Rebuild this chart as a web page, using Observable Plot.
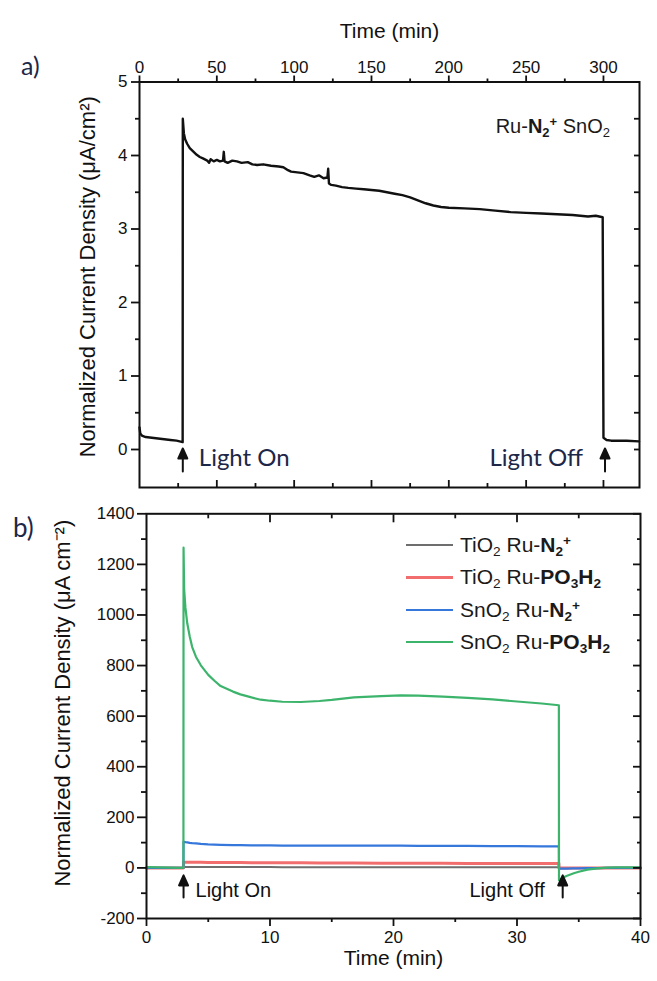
<!DOCTYPE html>
<html><head><meta charset="utf-8">
<script src="https://cdn.jsdelivr.net/npm/d3@7"></script>
<script src="https://cdn.jsdelivr.net/npm/@observablehq/plot@0.6"></script>
<style>
body{margin:0;background:#fff;}
#wrap{position:relative;width:657px;height:981px;overflow:hidden;background:#fff;font-family:"Liberation Sans",Arial,sans-serif;color:#1a1a1a;}
#wrap svg{display:block;}
.ov{position:absolute;white-space:nowrap;}
.cal{font-family:Lato,"Open Sans",sans-serif;color:#1d2748;}
sub,sup{font-size:65%;line-height:0;}
sub{vertical-align:-0.28em;}
sup{vertical-align:0.55em;}
</style></head><body><div id="wrap"></div>
<script>
// ---------- Panel a data (Ru-N2+ SnO2, long run) ----------
const timeA = [0,0.5,1.5,4,8,12,16,20,24,27.9,28,28.7,29.5,30.8,32.5,35,37,39,41,43.8,45,46,48,50,52,54,54.5,55,57,60,63,66,70,73,76,80,85,90,93,96,98,102,106,110,113,116,119,121.5,122,122.5,124,127,131,135,140,145,150,155,160,165,170,175,180,185,190,195,200,210,220,230,240,250,260,270,280,290,295,299.5,300,302,305,315,323];
const currentA = [0.30,0.22,0.19,0.17,0.16,0.15,0.14,0.13,0.12,0.10,4.50,4.30,4.22,4.16,4.10,4.05,4.01,3.98,3.96,3.93,3.90,3.95,3.92,3.94,3.92,3.93,4.05,3.92,3.90,3.93,3.92,3.90,3.91,3.88,3.87,3.88,3.86,3.85,3.84,3.80,3.78,3.77,3.76,3.73,3.71,3.73,3.69,3.70,3.82,3.62,3.60,3.59,3.57,3.56,3.55,3.54,3.53,3.52,3.50,3.48,3.46,3.43,3.39,3.35,3.32,3.30,3.29,3.28,3.27,3.25,3.23,3.22,3.21,3.20,3.19,3.17,3.18,3.16,0.16,0.13,0.12,0.12,0.11];
const lightTimesA = [28, 301];

// ---------- Panel b data ----------
const timeB = [0,1,2,2.99,3,3.05,3.15,3.3,3.5,3.7,4,4.4,5,5.5,6,7,7.6,8.5,9.25,10,11,12.5,14,15,16.8,19,20.6,22,24,26,28,30,32,33.39,33.4,33.6,34,34.6,35,35.7,36.5,37.3,38,39,40];
const tio2N2    = [0,0,0,0, 4,4,4,4,4,4, 4,4,4,4,4, 4,4,4,4,4, 3,3,3,3,3, 3,3,3,3,3, 3,3,3,3, 0,0,0,0,0, 0,0,0,0,0,0];
const tio2PO3H2 = [0,0,0,0, 22,22,22,22,22,22, 22,22,21,21,21, 21,21,20,20,20, 20,20,19,19,19, 18,18,18,18,17, 17,17,17,17, 0,0,0,0,0, 0,0,0,0,0,0];
const sno2N2    = [0,0,0,0, 104,103,102,101,99,98, 97,95,93,92,91, 90,90,89,89,89, 88,88,88,88,88, 88,88,87,87,87, 86,86,85,85, -3,-3,-3,-2,-2, -1,-1,0,0,0,0];
const sno2PO3H2 = [3,2,1,0, 1266,1100,1030,967,915,873, 835,801,763,740,719, 697,686,674,665,661, 657,656,660,664,674, 679,682,681,677,672, 666,658,650,643, -49,-42,-32,-21,-15, -7,-2,1,2,2,2];
const seriesNamesB = ["TiO2 Ru-N2+","TiO2 Ru-PO3H2","SnO2 Ru-N2+","SnO2 Ru-PO3H2"];
const seriesLabelsB = [
  'TiO<sub>2</sub> Ru-<b>N<sub>2</sub><sup>+</sup></b>',
  'TiO<sub>2</sub> Ru-<b>PO<sub>3</sub>H<sub>2</sub></b>',
  'SnO<sub>2</sub> Ru-<b>N<sub>2</sub><sup>+</sup></b>',
  'SnO<sub>2</sub> Ru-<b>PO<sub>3</sub>H<sub>2</sub></b>'
];
const seriesValuesB = [tio2N2, tio2PO3H2, sno2N2, sno2PO3H2];
const lightTimesB = [3, 33.7];

// ---------- ticks / labels ----------
const ticksAxMajor = [0,50,100,150,200,250,300];
const ticksAxMinor = [25,75,125,175,225,275];
const ticksAyMajor = [0,1,2,3,4,5];
const ticksAyMinor = [0.5,1.5,2.5,3.5,4.5];
const ticksBxMajor = [0,10,20,30,40];
const ticksBxMinor = [5,15,25,35];
const ticksByMajor = [-200,0,200,400,600,800,1000,1200,1400];
const ticksByMinor = [-100,100,300,500,700,900,1100,1300];
const timeLabel = "Time (min)";
const yLabelA = "Normalized Current Density (μA/cm²)";
const yLabelB = "Normalized Current Density (μA cm⁻²)";
const lightLabels = ["Light On", "Light Off"];

// ---------- styles ----------
const colorsB = ["#6e6e6e", "#f26d6d", "#3677dc", "#3cb46c"];
const widthsB = [2, 3, 2.2, 2.2];
const ink = "#111";
const fontFam = "Liberation Sans, Arial, sans-serif";

const arrowShape = {
  draw(ctx, l) {
    const h = 10, w = 4.5;
    ctx.moveTo(0, 0); ctx.lineTo(0, -l + h - 1);
    ctx.moveTo(0, -l); ctx.lineTo(-w, -l + h); ctx.lineTo(w, -l + h); ctx.closePath();
  }
};

const rowsA = timeA.map((t, i) => ({t, v: currentA[i]}));
const lightA = lightTimesA.map((t, i) => ({t, label: lightLabels[i]}));
const lightB = lightTimesB.map((t, i) => ({t, label: lightLabels[i]}));
const fmt = d => String(d);

const plotA = Plot.plot({
  width: 657, height: 495,
  marginTop: 81.5, marginLeft: 139, marginRight: 18, marginBottom: 8,
  x: {domain: [0, 323.3]},
  y: {domain: [-0.517, 5]},
  style: {fontFamily: fontFam, fontSize: "16px", color: ink, background: "white", overflow: "visible"},
  marks: [
    Plot.line(rowsA, {x: "t", y: "v", stroke: ink, strokeWidth: 2.4, strokeLinejoin: "round"}),
    Plot.frame({stroke: ink, strokeWidth: 2}),
    Plot.axisY({anchor: "left", ticks: ticksAyMajor, tickSize: 8, tickPadding: 4, fontSize: 17, label: null, tickFormat: fmt, strokeWidth: 1.8}),
    Plot.axisY({anchor: "left", ticks: ticksAyMinor, tickSize: 4, tickFormat: () => "", label: null, strokeWidth: 1.8}),
    Plot.axisY({anchor: "right", ticks: [...ticksAyMajor, ...ticksAyMinor], tickSize: 6, dx: -6, tickFormat: () => "", label: null, strokeWidth: 1.8}),
    Plot.axisX({anchor: "top", ticks: ticksAxMajor, tickSize: 7, tickPadding: 2, fontSize: 17, label: null, tickFormat: fmt, strokeWidth: 1.8}),
    Plot.axisX({anchor: "top", ticks: ticksAxMinor, tickSize: 4, tickFormat: () => "", label: null, strokeWidth: 1.8}),
    Plot.axisX({anchor: "bottom", ticks: ticksAxMajor.slice(1), tickSize: 7, dy: -7, tickFormat: () => "", label: null, strokeWidth: 1.8}),
    Plot.axisX({anchor: "bottom", ticks: ticksAxMinor, tickSize: 4, dy: -4, tickFormat: () => "", label: null, strokeWidth: 1.8}),
    Plot.text([timeLabel], {text: d => d, frameAnchor: "top", dy: -59, fontSize: 21, fill: ink}),
    Plot.text([yLabelA], {text: d => d, frameAnchor: "left", textAnchor: "middle", rotate: -90, dx: -52, dy: -8, fontSize: 22, fill: ink}),
    Plot.vector(lightA, {x: "t", y: () => 0, length: 23, rotate: 0, anchor: "end", dy: -1, shape: arrowShape, stroke: ink, fill: ink, strokeWidth: 2}),
    Plot.text([lightA[0]], {x: "t", y: () => 0, text: "label", textAnchor: "start", dx: 16, dy: 9, fontSize: 24, fontFamily: "Lato, Open Sans, sans-serif", fill: "#1d2748"}),
    Plot.text([lightA[1]], {x: "t", y: () => 0, text: "label", textAnchor: "end", dx: -22, dy: 9, fontSize: 24, fontFamily: "Lato, Open Sans, sans-serif", fill: "#1d2748"})
  ]
});

const linesB = seriesValuesB.map((vals, i) =>
  Plot.line(timeB.map((t, j) => ({t, v: vals[j], s: seriesNamesB[i]})), {x: "t", y: "v", stroke: colorsB[i], strokeWidth: widthsB[i], strokeLinejoin: "round"})
);

const plotB = Plot.plot({
  width: 657, height: 486,
  marginTop: 18.3, marginLeft: 146, marginRight: 17, marginBottom: 63,
  x: {domain: [0, 40]},
  y: {domain: [-200, 1400]},
  style: {fontFamily: fontFam, fontSize: "16px", color: ink, background: "white", overflow: "visible"},
  marks: [
    ...linesB,
    Plot.frame({stroke: ink, strokeWidth: 2}),
    Plot.axisY({anchor: "left", ticks: ticksByMajor, tickSize: 9, tickPadding: 3, fontSize: 17, label: null, tickFormat: fmt, strokeWidth: 1.8}),
    Plot.axisY({anchor: "left", ticks: ticksByMinor, tickSize: 5, tickFormat: () => "", label: null, strokeWidth: 1.8}),
    Plot.axisY({anchor: "right", ticks: ticksByMajor, tickSize: 8, dx: -8, tickFormat: () => "", label: null, strokeWidth: 1.8}),
    Plot.axisY({anchor: "right", ticks: ticksByMinor, tickSize: 4, dx: -4, tickFormat: () => "", label: null, strokeWidth: 1.8}),
    Plot.axisX({anchor: "bottom", ticks: ticksBxMajor, tickSize: 8, tickPadding: 4, fontSize: 17, label: null, tickFormat: fmt, strokeWidth: 1.8}),
    Plot.axisX({anchor: "bottom", ticks: ticksBxMinor, tickSize: 4, tickFormat: () => "", label: null, strokeWidth: 1.8}),
    Plot.axisX({anchor: "top", ticks: ticksBxMajor.slice(1, -1), tickSize: 8, dy: 8, tickFormat: () => "", label: null, strokeWidth: 1.8}),
    Plot.axisX({anchor: "top", ticks: ticksBxMinor, tickSize: 4, dy: 4, tickFormat: () => "", label: null, strokeWidth: 1.8}),
    Plot.text([timeLabel], {text: d => d, frameAnchor: "bottom", dy: 46, fontSize: 21, fill: ink}),
    Plot.text([yLabelB], {text: d => d, frameAnchor: "left", textAnchor: "middle", rotate: -90, dx: -84, dy: -13, fontSize: 22, fill: ink}),
    Plot.vector(lightB, {x: "t", y: () => 0, length: 22, rotate: 0, anchor: "end", dy: 7.5, shape: arrowShape, stroke: ink, fill: ink, strokeWidth: 2}),
    Plot.text([lightB[0]], {x: "t", y: () => 0, text: "label", textAnchor: "start", dx: 12, dy: 23, fontSize: 20, fill: ink}),
    Plot.text([lightB[1]], {x: "t", y: () => 0, text: "label", textAnchor: "end", dx: -18, dy: 23, fontSize: 20, fill: ink})
  ]
});

const wrap = document.getElementById("wrap");
wrap.appendChild(plotA);
wrap.appendChild(plotB);

function overlay(html, css, cls) {
  const d = document.createElement("div");
  d.className = "ov " + (cls || "");
  d.innerHTML = html;
  Object.assign(d.style, css);
  wrap.appendChild(d);
  return d;
}
// panel letters
overlay("a)", {left: "21px", top: "51px", fontSize: "25px", lineHeight: "28px"}, "cal");
overlay("b)", {left: "13px", top: "513px", fontSize: "26px", lineHeight: "28px"}, "cal");
// panel a sample label
overlay('Ru-<b>N<sub>2</sub><sup>+</sup></b> SnO<sub>2</sub>', {right: "47px", top: "114px", fontSize: "20px", lineHeight: "24px", color: "#1a1a1a"});
// panel b legend
const rowY = [545, 577, 610, 642];
seriesLabelsB.forEach((lab, i) => {
  const sw = document.createElement("div");
  sw.className = "ov";
  Object.assign(sw.style, {left: "406px", width: "47px", top: (rowY[i] - widthsB[i] / 2) + "px", height: widthsB[i] + "px", background: colorsB[i]});
  wrap.appendChild(sw);
  overlay(lab, {left: "460px", top: (rowY[i] - 13) + "px", fontSize: "21px", lineHeight: "26px", color: "#1a1a1a"});
});
</script>
</body></html>
